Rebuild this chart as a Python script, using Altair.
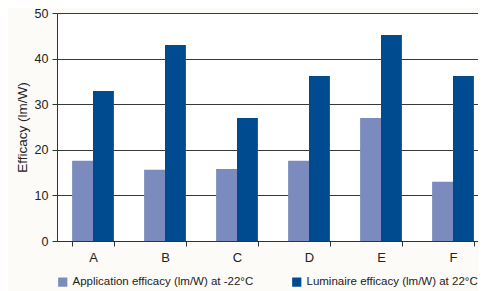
import altair as alt
import pandas as pd

categories = ["A", "B", "C", "D", "E", "F"]
app_values = [17.6, 15.6, 15.8, 17.6, 27.0, 13.0]
lum_values = [32.9, 43.0, 27.0, 36.2, 45.2, 36.2]
series = ["Application efficacy (lm/W) at -22°C", "Luminaire efficacy (lm/W) at 22°C"]
y_ticks = [0, 10, 20, 30, 40, 50]

rows = []
for c, a, l in zip(categories, app_values, lum_values):
    rows.append({"cat": c, "series": series[0], "value": a})
    rows.append({"cat": c, "series": series[1], "value": l})
df = pd.DataFrame(rows)

font = "Liberation Sans"

chart = alt.Chart(df).mark_bar().encode(
    x=alt.X("cat:N", sort=categories,
            scale=alt.Scale(paddingInner=0.42, paddingOuter=0.21),
            axis=alt.Axis(title=None, labelAngle=0, tickBand="extent", tickSize=5,
                          labelPadding=5, labelFontSize=13, labelColor="#222",
                          domainColor="#333", tickColor="#333", labelFont=font, grid=False)),
    xOffset=alt.XOffset("series:N", sort=series, scale=alt.Scale(paddingInner=0, paddingOuter=0)),
    y=alt.Y("value:Q", scale=alt.Scale(domain=[0, 50], nice=False),
            axis=alt.Axis(title="Efficacy (lm/W)", values=y_ticks, tickSize=5, labelPadding=4,
                          labelFontSize=12.5, labelColor="#222", titleFontSize=13.5,
                          titleFontWeight="normal", titleColor="#222", titlePadding=5,
                          titleFont=font, labelFont=font,
                          domainColor="#333", tickColor="#333", gridColor="#3a3a3a", gridOpacity=1)),
    color=alt.Color("series:N", sort=series,
                    scale=alt.Scale(domain=series, range=["#7b8bbd", "#004b8f"]),
                    legend=alt.Legend(title=None, orient="none", legendX=0, legendY=263,
                                      direction="horizontal", symbolType="square", symbolSize=85,
                                      symbolStrokeWidth=0, labelFontSize=11.5, labelFont=font,
                                      labelColor="#222", columnPadding=37, labelLimit=300,
                                      labelOffset=4)),
).properties(
    width=432, height=228,
    autosize=alt.AutoSizeParams(type="none"),
    padding={"left": 49, "top": 5, "right": -11, "bottom": 50},
    background="#fcfbf8",
).configure_view(fill="white", stroke=None)

chart.save("out.html", embed_options={"renderer": "svg", "actions": False})
